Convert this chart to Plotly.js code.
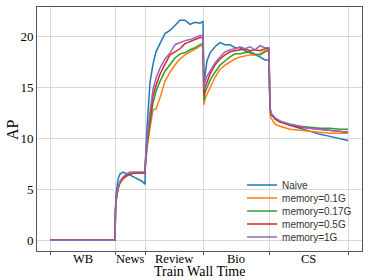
<!DOCTYPE html>
<html>
<head>
<meta charset="utf-8">
<script src="https://cdn.plot.ly/plotly-3.0.1.min.js"></script>
<style>html,body{margin:0;padding:0;background:#fff;}</style>
</head>
<body>
<div id="chart" style="width:374px;height:280px;"></div>
<script>
// Domain boundaries (train wall time) and labels
var boundaries = [0, 65.3, 95.3, 153, 219.3, 298.3];
var domains = ['WB', 'News', 'Review', 'Bio', 'CS'];
var xTitle = 'Train Wall Time';
var yTitle = 'AP';

var time = [
  0, 65,
  65.5, 66, 68, 70, 73, 76, 80, 84, 88, 92, 95,
  95.5, 97, 100, 103, 106, 110, 115, 120, 125, 130, 135, 140, 145, 150, 153,
  153.5, 154, 155, 157, 160, 165, 170, 175, 180, 185, 190, 195, 200, 205, 210, 215, 219,
  219.5, 220, 221, 225, 230, 240, 250, 260, 270, 280, 290, 298
];

var naive = [
  0, 0,
  3.2, 4.5, 6.0, 6.5, 6.7, 6.6, 6.4, 6.2, 6.0, 5.8, 5.5,
  8.0, 11.0, 15.5, 17.3, 18.5, 19.3, 20.3, 20.6, 21.1, 21.6, 21.6, 21.2, 21.4, 21.3, 21.5,
  16.5, 15.0, 16.2, 17.6, 18.4, 19.0, 19.4, 19.2, 19.2, 18.9, 18.9, 18.6, 18.4, 18.2, 18.0, 17.7, 17.7,
  15.0, 13.0, 12.4, 12.0, 11.7, 11.3, 11.0, 10.7, 10.4, 10.2, 10.0, 9.8
];
var mem01 = [
  0, 0,
  2.8, 3.8, 5.0, 5.6, 6.0, 6.3, 6.5, 6.6, 6.6, 6.6, 6.6,
  7.5, 9.0, 11.0, 12.8, 12.9, 14.0, 15.6, 16.5, 17.2, 17.8, 18.2, 18.5, 18.8, 19.1, 19.2,
  15.0, 13.3, 13.9, 14.3, 15.0, 16.0, 16.8, 17.2, 17.5, 17.8, 18.0, 18.1, 18.2, 18.2, 18.3, 18.6, 18.7,
  15.0, 12.5, 12.0, 11.4, 11.2, 10.9, 10.8, 10.7, 10.6, 10.5, 10.5, 10.5
];
var mem017 = [
  0, 0,
  2.9, 3.9, 5.1, 5.7, 6.1, 6.4, 6.5, 6.6, 6.6, 6.6, 6.6,
  7.6, 9.3, 11.5, 13.5, 14.6, 15.6, 16.6, 17.3, 17.9, 18.3, 18.4, 18.7, 18.9, 19.2, 19.3,
  15.5, 13.7, 14.5, 15.0, 15.7, 16.5, 17.2, 17.6, 18.0, 18.3, 18.3, 18.4, 18.5, 18.3, 18.2, 18.5, 18.6,
  15.0, 13.0, 12.4, 12.0, 11.7, 11.4, 11.2, 11.1, 11.0, 11.0, 10.9, 10.9
];
var mem05 = [
  0, 0,
  2.9, 3.9, 5.1, 5.7, 6.1, 6.3, 6.5, 6.6, 6.6, 6.6, 6.6,
  7.7, 9.6, 12.0, 14.2, 15.2, 16.3, 17.3, 18.2, 18.5, 18.8, 19.3, 19.5, 19.7, 19.9, 19.9,
  16.0, 14.2, 15.0, 15.6, 16.3, 17.2, 17.8, 18.2, 18.5, 18.6, 18.7, 18.8, 18.6, 18.7, 18.6, 18.8, 18.8,
  15.0, 13.0, 12.4, 11.9, 11.6, 11.3, 11.1, 11.0, 10.9, 10.8, 10.7, 10.6
];
var mem1 = [
  0, 0,
  3.0, 4.0, 5.2, 5.8, 6.2, 6.5, 6.7, 6.7, 6.7, 6.7, 6.7,
  7.8, 10.0, 12.6, 14.8, 15.9, 16.9, 17.8, 18.4, 19.2, 19.4, 19.6, 19.7, 19.9, 20.1, 20.1,
  16.5, 14.8, 15.6, 16.1, 16.6, 17.4, 18.0, 18.5, 18.7, 18.8, 19.0, 18.8, 19.0, 18.7, 19.1, 18.9, 18.9,
  15.0, 13.1, 12.5, 12.0, 11.7, 11.4, 11.2, 11.0, 10.9, 10.8, 10.7, 10.6
];

var seriesNames = ['Naive', 'memory=0.1G', 'memory=0.17G', 'memory=0.5G', 'memory=1G'];
var seriesData = [naive, mem01, mem017, mem05, mem1];
var colors = ['#1f77b4', '#ff7f0e', '#2ca02c', '#d62728', '#9467bd'];

var mids = [];
for (var i = 0; i < domains.length; i++) mids.push((boundaries[i] + boundaries[i + 1]) / 2);

var legendKeys = ['legend', 'legend2', 'legend3', 'legend4', 'legend5'];
var traces = seriesData.map(function (d, i) {
  return {
    x: time, y: d, type: 'scatter', mode: 'lines', name: seriesNames[i],
    line: {color: colors[i], width: 1.5}, legend: legendKeys[i]
  };
});

var serif = 'Liberation Serif, Times New Roman, serif';
var annotations = domains.map(function (d, i) {
  return {text: d, xref: 'x', yref: 'paper', x: mids[i], y: -0.033, xanchor: 'center', yanchor: 'middle',
          showarrow: false, borderpad: 0, font: {family: serif, size: 12.5, color: '#000'}};
});
annotations.push(
  {text: xTitle, xref: 'paper', yref: 'paper', x: 0.5, y: -0.083, xanchor: 'center', yanchor: 'middle',
   showarrow: false, borderpad: 0, font: {family: serif, size: 14, color: '#000'}},
  {text: yTitle, xref: 'paper', yref: 'paper', x: -0.077, y: 0.5, xanchor: 'center', yanchor: 'middle',
   textangle: -90, showarrow: false, font: {family: serif, size: 16, color: '#000'}}
);

var layout = {
  width: 374, height: 280,
  margin: {l: 37, r: 12, t: 7, b: 29},
  paper_bgcolor: '#fff', plot_bgcolor: '#fff',
  showlegend: true,
  xaxis: {
    range: [-13, 312], automargin: false,
    tickmode: 'array', tickvals: mids, ticktext: domains, showticklabels: false,
    ticks: '', showgrid: false, zeroline: false,
    showline: true, mirror: true, linecolor: '#555', linewidth: 1,
    minor: {tickmode: 'array', tickvals: boundaries, showgrid: true, gridcolor: '#d9d9d9', gridwidth: 1,
            ticks: 'outside', ticklen: 3, tickcolor: '#555'}
  },
  yaxis: {
    range: [-1.05, 22.9], automargin: false,
    tickmode: 'array', tickvals: [0, 5, 10, 15, 20],
    ticks: '', showgrid: true, gridcolor: '#d9d9d9', gridwidth: 1, zeroline: false,
    tickfont: {family: serif, size: 13, color: '#000'},
    showline: true, mirror: true, linecolor: '#555', linewidth: 1
  },
  annotations: annotations
};

var legendY = [0.2705, 0.2172, 0.1639, 0.1107, 0.0574];
legendKeys.forEach(function (k, i) {
  layout[k] = {
    x: 0.631, y: legendY[i], xanchor: 'left', yanchor: 'middle',
    bgcolor: 'rgba(255,255,255,0)', borderwidth: 0, itemwidth: 30,
    font: {family: 'Liberation Sans, Arial, sans-serif', size: 10, color: '#333'}
  };
});

Plotly.newPlot('chart', traces, layout, {displayModeBar: false, staticPlot: true});
</script>
</body>
</html>
